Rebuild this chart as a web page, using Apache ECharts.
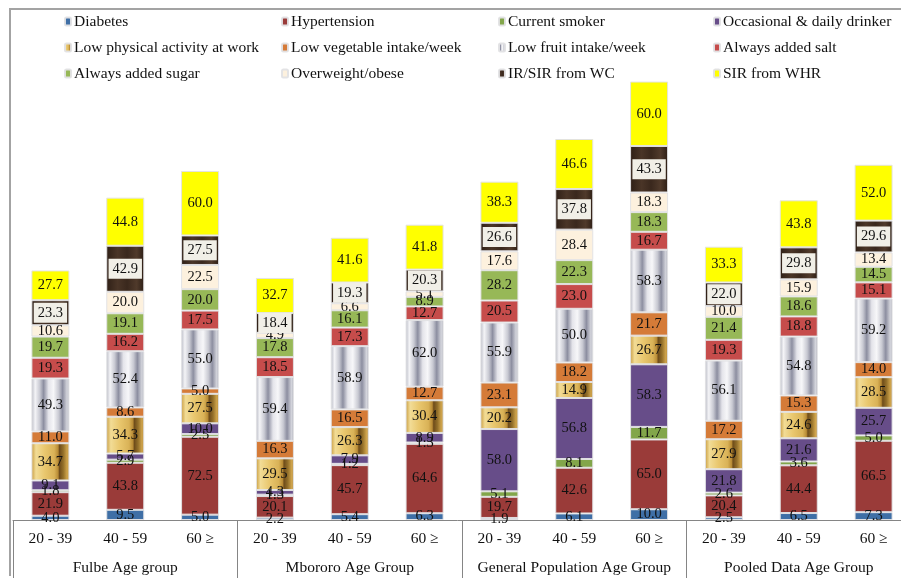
<!DOCTYPE html>
<html>
<head>
<meta charset="utf-8">
<script src="https://cdn.jsdelivr.net/npm/echarts@6/dist/echarts.min.js"></script>
<style>html,body{margin:0;padding:0;background:#fff;}#c{width:901px;height:581px;}</style>
</head>
<body>
<div id="c"></div>
<script>
const ageLabels = ['20 - 39','40 - 59','60 \u2265','20 - 39','40 - 59','60 \u2265','20 - 39','40 - 59','60 \u2265','20 - 39','40 - 59','60 \u2265'];
const groupLabels = ['Fulbe Age group','Mbororo Age Group','General Population Age Group','Pooled Data Age Group'];

const diabetes     = [4.0, 9.5, 5.0, 2.2, 5.4, 6.3, 1.9, 6.1, 10.0, 2.5, 6.5, 7.3];
const hypertension = [21.9, 43.8, 72.5, 20.1, 45.7, 64.6, 19.7, 42.6, 65.0, 20.4, 44.4, 66.5];
const smoker       = [1.8, 2.9, 2.5, 1.3, 1.2, 1.3, 5.1, 8.1, 11.7, 2.6, 3.6, 5.0];
const drinker      = [9.1, 5.7, 10.0, 4.3, 7.9, 8.9, 58.0, 56.8, 58.3, 21.8, 21.6, 25.7];
const physical     = [34.7, 34.3, 27.5, 29.5, 26.3, 30.4, 20.2, 14.9, 26.7, 27.9, 24.6, 28.5];
const vegetable    = [11.0, 8.6, 5.0, 16.3, 16.5, 12.7, 23.1, 18.2, 21.7, 17.2, 15.3, 14.0];
const fruit        = [49.3, 52.4, 55.0, 59.4, 58.9, 62.0, 55.9, 50.0, 58.3, 56.1, 54.8, 59.2];
const salt         = [19.3, 16.2, 17.5, 18.5, 17.3, 12.7, 20.5, 23.0, 16.7, 19.3, 18.8, 15.1];
const sugar        = [19.7, 19.1, 20.0, 17.8, 16.1, 8.9, 28.2, 22.3, 18.3, 21.4, 18.6, 14.5];
const overweight   = [10.6, 20.0, 22.5, 4.9, 6.6, 5.1, 17.6, 28.4, 18.3, 10.0, 15.9, 13.4];
const irWc         = [23.3, 42.9, 27.5, 18.4, 19.3, 20.3, 26.6, 37.8, 43.3, 22.0, 29.8, 29.6];
const sirWhr       = [27.7, 44.8, 60.0, 32.7, 41.6, 41.8, 38.3, 46.6, 60.0, 33.3, 43.8, 52.0];

const seriesNames = ['Diabetes','Hypertension','Current smoker','Occasional & daily drinker',
  'Low physical activity at work','Low vegetable intake/week','Low fruit intake/week','Always added salt',
  'Always added sugar','Overweight/obese','IR/SIR from WC','SIR from WHR'];
const seriesData = [diabetes, hypertension, smoker, drinker, physical, vegetable, fruit, salt, sugar, overweight, irWc, sirWhr];

const SERIF = '"Liberation Serif", "DejaVu Serif", serif';

function hgrad(stops){
  return {type:'linear', x:0, y:0, x2:1, y2:0, colorStops: stops.map(s=>({offset:s[0], color:s[1]}))};
}
const colors = [
  '#3f6fa6',
  '#9a3b39',
  '#82a64a',
  '#674d89',
  hgrad([[0,'#c79a3e'],[0.12,'#f2dc96'],[0.35,'#e9c76e'],[0.6,'#d9b257'],[0.7,'#b98c36'],[0.74,'#6e4c1a'],[0.84,'#94702a'],[0.94,'#cfa44c'],[1,'#b58a3a']]),
  '#d57b38',
  hgrad([[0,'#b8bac4'],[0.1,'#f4f4f7'],[0.22,'#c9cad3'],[0.32,'#8c8ea0'],[0.45,'#e4e4ea'],[0.58,'#f7f7f9'],[0.72,'#c8c9d2'],[0.82,'#8c8ea0'],[0.94,'#d4d5dc'],[1,'#a8aab6']]),
  '#c64c4b',
  '#97b857',
  '#fdf1de',
  hgrad([[0,'#2e1f16'],[0.3,'#4a3527'],[0.55,'#3a281d'],[0.8,'#503a2b'],[1,'#2c1d14']]),
  '#ffff00'
];

const series = seriesNames.map((name, i) => {
  const s = {
    name: name,
    type: 'bar',
    stack: 'all',
    barWidth: 38,
    xAxisIndex: 0,
    yAxisIndex: 0,
    data: seriesData[i],
    itemStyle: {color: colors[i], borderColor: 'rgba(225,225,228,0.95)', borderWidth: 1},
    label: {
      show: true,
      position: 'inside',
      color: '#111',
      fontFamily: SERIF,
      fontSize: 14.5,
      formatter: p => Number(p.value).toFixed(1)
    },
    emphasis: {disabled: true}
  };
  if (i === 10) {
    s.label.backgroundColor = '#f1efe7';
    s.label.padding = [3, 4, 2, 4];
  }
  return s;
});

const legendCols = [[0,4,8],[1,5,9],[2,6,10],[3,7,11]];
const legendLeft = [59, 276, 493, 708];
const legends = legendCols.map((col, k) => ({
  orient: 'vertical',
  left: legendLeft[k],
  top: 8,
  itemWidth: 6,
  itemHeight: 8,
  itemGap: 9,
  selectedMode: false,
  data: col.map(i => seriesNames[i]),
  textStyle: {fontFamily: SERIF, fontSize: 15.5, color: '#111', lineHeight: 17, padding: [0,0,0,-2]}
}));

const chart = echarts.init(document.getElementById('c'), null, {renderer: 'canvas'});
chart.setOption({
  animation: false,
  backgroundColor: '#fff',
  legend: legends,
  grid: {left: 13, width: 898, top: 69, bottom: 61, containLabel: false, outerBoundsMode: 'none'},
  xAxis: [
    {
      type: 'category',
      data: ageLabels,
      position: 'bottom',
      axisLine: {show: true, lineStyle: {color: '#858585', width: 1}},
      axisTick: {show: false},
      axisLabel: {fontFamily: SERIF, fontSize: 15.5, color: '#111', margin: 11, interval: 0}
    },
    {
      type: 'category',
      data: groupLabels,
      position: 'bottom',
      gridIndex: 0,
      axisLine: {show: false},
      axisTick: {show: true, length: 58, lineStyle: {color: '#858585', width: 1}},
      axisLabel: {fontFamily: SERIF, fontSize: 15.5, color: '#111', margin: 40, interval: 0}
    }
  ],
  yAxis: {type: 'value', min: 0, max: 420, show: false, splitLine: {show: false}},
  graphic: [{
    type: 'polyline',
    shape: {points: [[10, 576], [10, 9], [905, 9]]},
    style: {stroke: '#a3a3a3', lineWidth: 2, fill: null},
    silent: true
  }],
  series: series
});
</script>
</body>
</html>
